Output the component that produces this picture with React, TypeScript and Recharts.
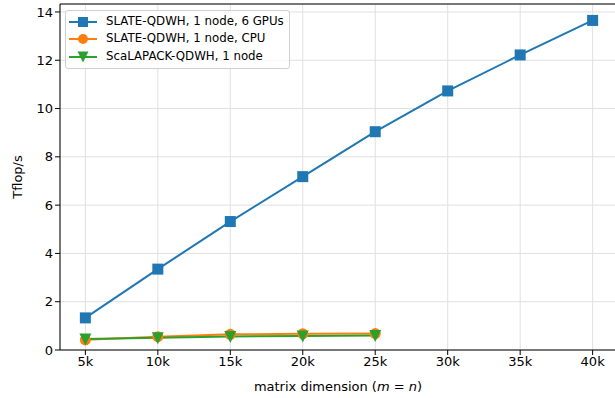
import React from 'react';
import { LineChart, Line, XAxis, YAxis, CartesianGrid, ReferenceLine } from 'recharts';

const sizes = [5000, 10000, 15000, 20000, 25000, 30000, 35000, 40000];
const slateGpu = [1.33, 3.35, 5.32, 7.18, 9.04, 10.73, 12.22, 13.65];
const slateCpu = [0.42, 0.55, 0.65, 0.67, 0.68];
const scalapack = [0.46, 0.51, 0.56, 0.58, 0.6];
const yTicks = [0, 2, 4, 6, 8, 10, 12, 14];

const BLUE = '#1f77b4';
const ORANGE = '#ff7f0e';
const GREEN = '#2ca02c';
const FONT = '"DejaVu Sans", sans-serif';

const data = sizes.map((n, i) => ({
  n,
  gpu: slateGpu[i],
  cpu: slateCpu[i],
  sca: scalapack[i],
}));

const Square = (props: any) => {
  const { cx, cy, fill } = props;
  if (cx == null || cy == null || props.value == null) return null;
  return <rect key={`s${cx}`} x={cx - 5.5} y={cy - 5.5} width={11} height={11} fill={fill} />;
};
const Circle = (props: any) => {
  const { cx, cy, fill } = props;
  if (cx == null || cy == null || props.value == null) return null;
  return <circle key={`c${cx}`} cx={cx} cy={cy} r={5.5} fill={fill} />;
};
const TriDown = (props: any) => {
  const { cx, cy, fill } = props;
  if (cx == null || cy == null || props.value == null) return null;
  return <path key={`t${cx}`} d={`M${cx - 6},${cy - 5.5} L${cx + 6},${cy - 5.5} L${cx},${cy + 6.5} Z`} fill={fill} />;
};

const legendItems = [
  { label: 'SLATE-QDWH, 1 node, 6 GPUs', color: BLUE, marker: 'square' },
  { label: 'SLATE-QDWH, 1 node, CPU', color: ORANGE, marker: 'circle' },
  { label: 'ScaLAPACK-QDWH, 1 node', color: GREEN, marker: 'tri' },
];

const LegendBox = () => (
  <div
    style={{
      position: 'absolute',
      left: 65,
      top: 10,
      background: 'rgba(255,255,255,0.8)',
      border: '1px solid #d0d0d0',
      borderRadius: 3,
      padding: '2px 5px 2px 2px',
      fontFamily: FONT,
      fontSize: 11.8,
      color: '#000',
      lineHeight: 1,
    }}
  >
    {legendItems.map((it) => (
      <div key={it.label} style={{ display: 'flex', alignItems: 'center', height: 17.5 }}>
        <svg width={30} height={14} style={{ marginRight: 8 }}>
          <line x1={1} y1={7} x2={29} y2={7} stroke={it.color} strokeWidth={2} />
          {it.marker === 'square' && <rect x={10} y={2} width={10} height={10} fill={it.color} />}
          {it.marker === 'circle' && <circle cx={15} cy={7} r={5} fill={it.color} />}
          {it.marker === 'tri' && <path d="M9.5,1.5 L20.5,1.5 L15,12.5 Z" fill={it.color} />}
        </svg>
        <span>{it.label}</span>
      </div>
    ))}
  </div>
);

const XLabel = (props: any) => {
  const { viewBox } = props;
  const x = viewBox.x + 278;
  const y = viewBox.y + viewBox.height + 11;
  return (
    <text x={x} y={y} textAnchor="middle" fontFamily={FONT} fontSize={13} fill="#000">
      matrix dimension (<tspan fontStyle="italic">m</tspan> = <tspan fontStyle="italic">n</tspan>)
    </text>
  );
};

export default function App() {
  return (
    <div style={{ position: 'absolute', left: 0, top: 0, width: 615, height: 398, overflow: 'hidden', background: '#fff' }}>
      <LineChart width={640} height={398} data={data} margin={{ top: 4, right: 22, bottom: 18, left: 10 }}>
        <CartesianGrid stroke="#e0e0e0" strokeWidth={1} />
        <XAxis
          dataKey="n"
          type="number"
          domain={[3250, 41750]}
          ticks={sizes}
          tickFormatter={(v: number) => `${v / 1000}k`}
          stroke="#000"
          tick={{ fill: '#000', fontSize: 13, fontFamily: FONT }}
          tickSize={5}
          height={30}
          label={<XLabel />}
        />
        <YAxis
          type="number"
          domain={[0, 14.33]}
          ticks={yTicks}
          allowDataOverflow
          stroke="#000"
          tick={{ fill: '#000', fontSize: 13, fontFamily: FONT }}
          tickSize={5}
          width={50}
          label={{ value: 'Tflop/s', angle: -90, position: 'insideLeft', offset: 7, style: { fontFamily: FONT, fontSize: 13, fill: '#000', textAnchor: 'middle' } }}
        />
        <ReferenceLine y={14.33} stroke="#000" strokeWidth={1} />
        <Line dataKey="gpu" stroke={BLUE} strokeWidth={2} dot={<Square fill={BLUE} />} isAnimationActive={false} />
        <Line dataKey="cpu" stroke={ORANGE} strokeWidth={2} dot={<Circle fill={ORANGE} />} isAnimationActive={false} />
        <Line dataKey="sca" stroke={GREEN} strokeWidth={2} dot={<TriDown fill={GREEN} />} isAnimationActive={false} />
      </LineChart>
      <LegendBox />
    </div>
  );
}
